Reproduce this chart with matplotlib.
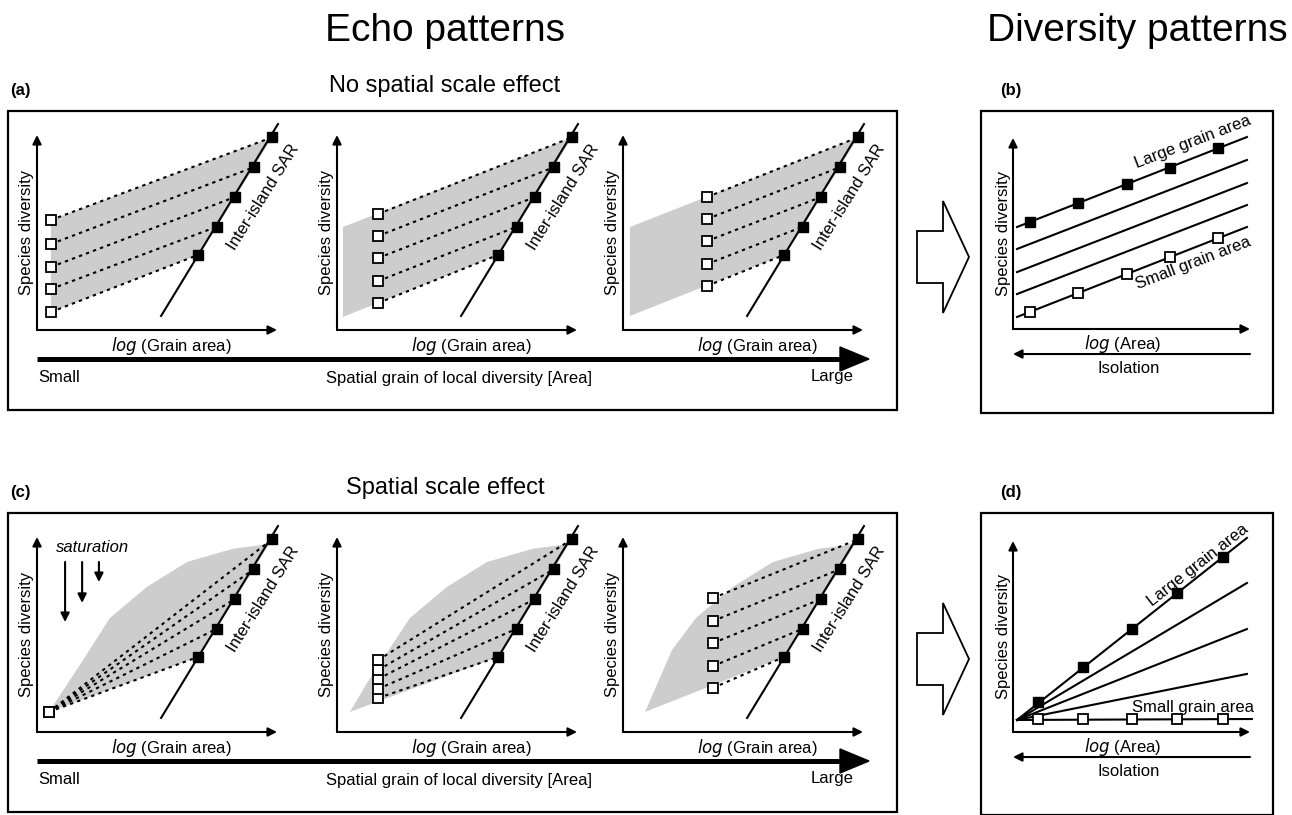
"""Figura conceptual: patrones de eco y patrones de diversidad (SAR entre islas)."""

import matplotlib

matplotlib.use("Agg")
import matplotlib.pyplot as plt
from matplotlib.patches import Polygon, Rectangle

plt.rcParams["font.family"] = ["Liberation Sans", "DejaVu Sans"]

W, H = 1292, 815
GRIS = "#cdcdcd"

# SAR entre islas (igual en todos los paneles de eco): log(area de grano) vs diversidad
SAR_X = [6.71, 7.50, 8.25, 9.04, 9.79]
SAR_Y = [3.85, 5.30, 6.82, 8.35, 9.88]
SAR_LINEA_X = [5.17, 10.04]
SAR_LINEA_Y = [0.72, 10.56]

# (a) sin efecto de escala: diversidad local en tres tamanos de grano
A_LOCAL_X = [0.58, 1.71, 3.50]
A_LOCAL_Y = [
    [0.92, 2.10, 3.23, 4.41, 5.64],
    [1.38, 2.51, 3.69, 4.82, 5.95],
    [2.26, 3.38, 4.56, 5.69, 6.82],
]
A_SOMBRA_X = [0.58, 0.25, 0.29]
A_SOMBRA_SUP = [5.64, 5.28, 5.28]
A_SOMBRA_INF = [0.92, 0.67, 0.72]

# (c) con efecto de escala
C_LOCAL_X = [0.50, 1.71, 3.75]
C_LOCAL_Y = [
    [1.03, 1.03, 1.03, 1.03, 1.03],
    [1.74, 2.21, 2.72, 3.18, 3.69],
    [2.26, 3.38, 4.56, 5.69, 6.87],
]
C_INICIO_X = [[0.50, 1.92], [0.54, 1.25], [0.92, 2.04]]
C_INICIO_Y = [[1.03, 3.69], [1.03, 2.51], [1.03, 4.20]]
C_ENVOLVENTE_X = [3.04, 4.58, 6.25, 8.17, 9.42]
C_ENVOLVENTE_Y = [5.85, 7.44, 8.72, 9.40, 9.60]
SATURACION_X = [1.17, 1.88, 2.58]
SATURACION_Y0 = [8.72, 8.72, 8.72]
SATURACION_Y1 = [5.64, 6.62, 7.69]

# (b) patrones de diversidad sin efecto de escala
B_AREA_X = [0.72, 2.74, 4.81, 6.62, 8.65]
B_GRANDE_Y = [5.60, 6.60, 7.59, 8.43, 9.48]
B_PEQUENO_Y = [0.89, 1.88, 2.88, 3.77, 4.76]
B_LINEA_X = [0.17, 9.87]
B_LINEA_Y0 = [5.34, 4.19, 2.98, 1.83, 0.63]
B_LINEA_Y1 = [10.05, 8.85, 7.64, 6.49, 5.34]

# (d) patrones de diversidad con efecto de escala
D_AREA_X = [1.05, 2.95, 5.02, 6.92, 8.86]
D_GRANDE_Y = [1.57, 3.40, 5.39, 7.28, 9.16]
D_PEQUENO_Y = [0.68, 0.68, 0.68, 0.68, 0.68]
D_ORIGEN_X, D_ORIGEN_Y = 0.17, 0.63
D_LINEA_X1 = [9.87, 9.87, 9.87, 9.87, 10.08]
D_LINEA_Y1 = [10.16, 7.80, 5.39, 3.04, 0.68]

ABIERTO = dict(marker="s", ms=7, mfc="white", mec="black", mew=1.3, ls="none", clip_on=False, zorder=5)
LLENO = dict(marker="s", ms=7.7, mfc="black", mec="black", ls="none", clip_on=False, zorder=5)
PUNTEADO = dict(color="black", lw=1.5, ls=(0, (1.6, 2.0)), clip_on=False, zorder=3)


def ejes_px(x0, y0, w=240, h=195):
    ax = fig.add_axes([x0 / W, 1 - y0 / H, w / W, h / H])
    ax.set_xlim(0, 10)
    ax.set_ylim(0, 10)
    ax.axis("off")
    flecha = dict(arrowstyle="-|>", lw=1.5, color="black", mutation_scale=13, shrinkA=0, shrinkB=0)
    ax.annotate("", xy=(1.0, 0), xytext=(0, 0), xycoords="axes fraction", arrowprops=flecha)
    ax.annotate("", xy=(0, 1.0), xytext=(0, 0), xycoords="axes fraction", arrowprops=flecha)
    return ax


def panel_eco(ax, lx, ly, sombra_x, sombra_y):
    ax.add_patch(Polygon(list(zip(sombra_x, sombra_y)), closed=True, fc=GRIS, ec="none", zorder=1))
    ax.plot(SAR_LINEA_X, SAR_LINEA_Y, color="black", lw=1.5, clip_on=False, zorder=4)
    for y, sx, sy in zip(ly, SAR_X, SAR_Y):
        ax.plot([lx, sx], [y, sy], **PUNTEADO)
    ax.plot([lx] * len(ly), ly, **ABIERTO)
    ax.plot(SAR_X, SAR_Y, **LLENO)
    ax.text(-0.42, 5.0, "Species diversity", rotation=90, ha="center", va="center", fontsize=12)
    ax.text(5.6, -0.8, r"$\it{log}$ (Grain area)", ha="center", va="center", fontsize=12)
    ax.text(9.45, 6.8, "Inter-island SAR", rotation=58, ha="center", va="center", fontsize=12)


def panel_diversidad(ax):
    ax.text(-0.42, 5.0, "Species diversity", rotation=90, ha="center", va="center", fontsize=12)
    ax.text(4.64, -0.8, r"$\it{log}$ (Area)", ha="center", va="center", fontsize=12)
    ax.annotate("", xy=(0, -1.31), xytext=(10, -1.31), xycoords="data", annotation_clip=False,
                arrowprops=dict(arrowstyle="-|>", lw=1.5, color="black", mutation_scale=13,
                                shrinkA=0, shrinkB=0))
    ax.text(4.9, -2.05, "Isolation", ha="center", va="center", fontsize=12)


fig = plt.figure(figsize=(W / 100, H / 100), dpi=100)
fondo = fig.add_axes([0, 0, 1, 1])
fondo.set_xlim(0, W)
fondo.set_ylim(H, 0)
fondo.axis("off")

fondo.text(445, 31, "Echo patterns", ha="center", va="center", fontsize=28)
fondo.text(1137, 31, "Diversity patterns", ha="center", va="center", fontsize=28)

for dy, letra, titulo in [(0, "(a)", "No spatial scale effect"), (402, "(c)", "Spatial scale effect")]:
    fondo.text(10, 91 + dy, letra, ha="left", va="center", fontsize=12, fontweight="bold")
    fondo.text(1000, 91 + dy, "(b)" if dy == 0 else "(d)", ha="left", va="center", fontsize=12,
               fontweight="bold")
    fondo.text(445, 86 + dy, titulo, ha="center", va="center", fontsize=17)
    fondo.add_patch(Rectangle((8, 111 + dy), 889, 299, fill=False, lw=1.6, ec="black"))
    fondo.add_patch(Rectangle((981, 111 + dy), 292, 302, fill=False, lw=1.6, ec="black"))
    # flecha gruesa del grano espacial
    fondo.plot([37, 845], [359 + dy, 359 + dy], color="black", lw=3.6, solid_capstyle="butt")
    fondo.add_patch(Polygon([[840, 347 + dy], [869, 359 + dy], [840, 371 + dy]], closed=True, color="black"))
    fondo.text(38, 377 + dy, "Small", ha="left", va="center", fontsize=12)
    fondo.text(853, 377 + dy, "Large", ha="right", va="center", fontsize=12)
    fondo.text(459, 379 + dy, "Spatial grain of local diversity [Area]", ha="center", va="center", fontsize=12)
    # flecha hueca entre paneles
    fondo.add_patch(Polygon([[917, 231 + dy], [943, 231 + dy], [943, 201 + dy], [969, 257 + dy],
                             [943, 313 + dy], [943, 283 + dy], [917, 283 + dy]],
                            closed=True, fc="white", ec="black", lw=1.3))

# (a)
for x0, lx, ly, ex, et, eb in zip([37, 337, 623], A_LOCAL_X, A_LOCAL_Y, A_SOMBRA_X, A_SOMBRA_SUP, A_SOMBRA_INF):
    ax = ejes_px(x0, 330)
    sx = [ex, SAR_X[-1]] + SAR_X[::-1] + [ex]
    sy = [et, SAR_Y[-1]] + SAR_Y[::-1] + [eb]
    panel_eco(ax, lx, ly, sx, sy)

# (c)
for i, (x0, lx, ly) in enumerate(zip([37, 337, 623], C_LOCAL_X, C_LOCAL_Y)):
    ax = ejes_px(x0, 732)
    sx = C_INICIO_X[i] + C_ENVOLVENTE_X + SAR_X[::-1]
    sy = C_INICIO_Y[i] + C_ENVOLVENTE_Y + SAR_Y[::-1]
    panel_eco(ax, lx, ly, sx, sy)
    if i == 0:
        for x, y0, y1 in zip(SATURACION_X, SATURACION_Y0, SATURACION_Y1):
            ax.annotate("", xy=(x, y1), xytext=(x, y0), xycoords="data",
                        arrowprops=dict(arrowstyle="-|>", lw=1.5, color="black", mutation_scale=13,
                                        shrinkA=0, shrinkB=0))
        ax.text(2.33, 9.45, "saturation", ha="center", va="center", fontsize=12, style="italic")

# (b)
ax = ejes_px(1013, 329, 237, 191)
for y0, y1 in zip(B_LINEA_Y0, B_LINEA_Y1):
    ax.plot(B_LINEA_X, [y0, y1], color="black", lw=1.5, clip_on=False)
ax.plot(B_AREA_X, B_GRANDE_Y, **LLENO)
ax.plot(B_AREA_X, B_PEQUENO_Y, **ABIERTO)
ax.text(7.6, 9.8, "Large grain area", rotation=21, ha="center", va="center", fontsize=12)
ax.text(7.6, 3.45, "Small grain area", rotation=21, ha="center", va="center", fontsize=12)
panel_diversidad(ax)

# (d)
ax = ejes_px(1013, 732, 237, 191)
for x1, y1 in zip(D_LINEA_X1, D_LINEA_Y1):
    ax.plot([D_ORIGEN_X, x1], [D_ORIGEN_Y, y1], color="black", lw=1.5, clip_on=False)
ax.plot(D_AREA_X, D_GRANDE_Y, **LLENO)
ax.plot(D_AREA_X, D_PEQUENO_Y, **ABIERTO)
ax.text(7.8, 8.75, "Large grain area", rotation=38, ha="center", va="center", fontsize=12)
ax.text(7.6, 1.3, "Small grain area", ha="center", va="center", fontsize=12)
panel_diversidad(ax)

fig.savefig("out.png", dpi=100)
